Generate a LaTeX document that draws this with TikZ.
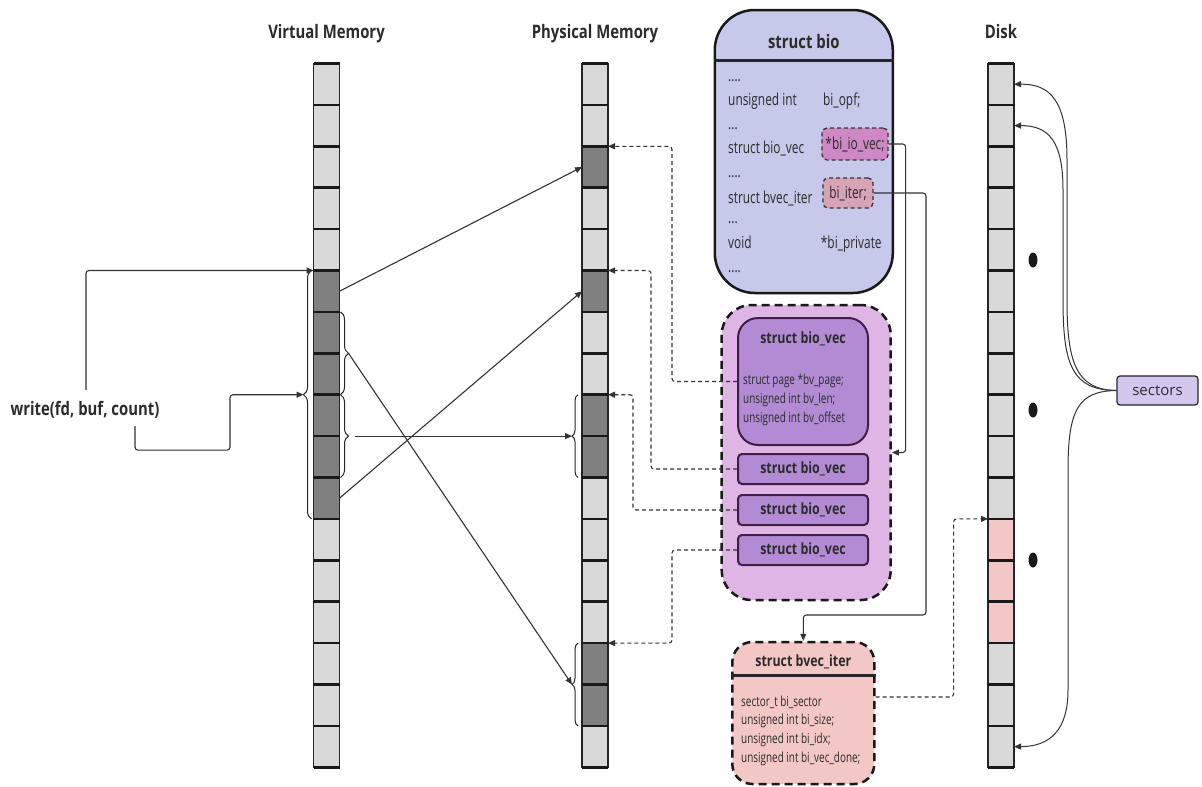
\documentclass[tikz,border=0pt]{standalone}
\usepackage{fontspec}
\setmainfont{Open Sans}[FakeStretch=0.8]
\newfontfamily\widesans{Open Sans}
\newfontfamily\condsans{Open Sans}[FakeStretch=0.72]
\usetikzlibrary{arrows.meta,calc,decorations.pathreplacing}

\definecolor{cellLite}{HTML}{D9D9D9}
\definecolor{cellDark}{HTML}{808080}
\definecolor{cellPink}{HTML}{F4C7C7}
\definecolor{bioFill}{HTML}{C6C9EA}
\definecolor{iovFill}{HTML}{CE88C6}
\definecolor{iterFill}{HTML}{D6A4B6}
\definecolor{contFill}{HTML}{DEB5E4}
\definecolor{bvFill}{HTML}{B28BD4}
\definecolor{bvEdge}{HTML}{3F1F4A}
\definecolor{bvecFill}{HTML}{F4C7C7}
\definecolor{secFill}{HTML}{D5C6F0}
\definecolor{ink}{HTML}{333333}
\definecolor{txt}{HTML}{2B2B2B}

\newcommand{\setfs}[1]{\fontsize{#1}{#1}\selectfont}

\begin{document}
\begin{tikzpicture}[x=1pt,y=-1pt,
  cell/.style={draw=black!85,line width=1.2pt,minimum width=26pt,minimum height=41.4pt,inner sep=0pt,outer sep=0pt},
  lite/.style={cell,fill=cellLite},
  dark/.style={cell,fill=cellDark},
  pinkc/.style={cell,fill=cellPink},
  sepline/.style={line width=2.6pt,draw=black!90},
  title/.style={font=\bfseries\setfs{18.6},text=txt,anchor=base,inner sep=0pt},
  field/.style={font=\condsans\setfs{16.5},text=txt,anchor=base west,inner sep=0pt},
  smallfield/.style={font=\condsans\setfs{13.8},text=txt,anchor=base west,inner sep=0pt},
  conn/.style={draw=ink,line width=1.1pt,-{Triangle[length=7pt,width=6pt]}},
  dconn/.style={conn,dash pattern=on 4pt off 3pt},
  brc/.style={decorate,draw=black!85,line width=1pt},
  bvbox/.style={draw=bvEdge,line width=2pt,fill=bvFill,minimum width=130pt,inner sep=0pt,text=txt},
  bigdash/.style={draw=black!90,line width=2.5pt,dash pattern=on 8pt off 5pt},
  smalldash/.style={draw=black!80,line width=1.3pt,dash pattern=on 4pt off 3pt,rounded corners=5pt,inner sep=1pt,font=\condsans\setfs{16.5},text=txt},
]
\useasboundingbox (0,0) rectangle (1202,787);

% memory and disk columns
\foreach \col/\x/\kinds in {
  v/326.5/{lite,lite,lite,lite,lite,dark,dark,dark,dark,dark,dark,lite,lite,lite,lite,lite,lite},
  p/595/{lite,lite,dark,lite,lite,dark,lite,lite,dark,dark,lite,lite,lite,lite,dark,dark,lite},
  d/1001/{lite,lite,lite,lite,lite,lite,lite,lite,lite,lite,lite,pinkc,pinkc,pinkc,lite,lite,lite}}{
  \foreach \k [count=\n from 0] in \kinds {
    \node[\k] (\col\n) at (\x,{63.5+(\n+0.5)*41.4}) {};
  }
}
\foreach \col in {v,p,d}{
  \foreach \n in {0,...,16}{
    \draw[sepline] (\col\n.north west) -- (\col\n.north east);
  }
  \draw[sepline] (\col16.south west) -- (\col16.south east);
}

% column titles
\node[title] (tv) at (326.5,38.5) {Virtual Memory};
\node[title] (tp) at (595,38.5) {Physical Memory};
\node[title] (td) at (1001,38.5) {Disk};

% braces
\draw[brc,decoration={brace,amplitude=8pt,raise=1pt}] (v6.north east) -- (v7.south east);
\draw[brc,decoration={brace,amplitude=8pt,raise=1pt}] (v8.north east) -- (v9.south east);
\draw[brc,decoration={brace,amplitude=8pt,raise=2pt}] (v10.south west) -- (v5.north west);
\draw[brc,decoration={brace,amplitude=6pt,raise=4pt}] (p9.south west) -- (p8.north west);
\draw[brc,decoration={brace,amplitude=6pt,raise=4pt}] (p15.south west) -- (p14.north west);
\coordinate (vb1) at ($(v6.north east)!0.5!(v7.south east)+(9,0)$);
\coordinate (vb2) at ($(v8.north east)!0.5!(v9.south east)+(9,0)$);
\coordinate (vbl) at ($(v5.north west)!0.5!(v10.south west)+(-10,0)$);
\coordinate (pb1) at ($(p8.north west)!0.5!(p9.south west)+(-10,0)$);
\coordinate (pb2) at ($(p14.north west)!0.5!(p15.south west)+(-10,0)$);

% virtual to physical mapping
\draw[conn] (v5.east) -- (p2.west);
\draw[conn] (v10.east) -- (p5.west);
\draw[conn,shorten <=6pt] (vb2) -- (pb1);
\draw[conn] (vb1) -- (pb2);

% the system call
\node[font=\bfseries\setfs{18.6},text=txt] (write) at (85,410) {write(fd, buf, count)};
\draw[conn,rounded corners=3pt] ($(write.north)+(1,-8)$) |- (v5.north west);
\draw[conn,rounded corners=3pt] ($(write.south)+(50,4)$) |- ++(95,24) |- (vbl);

% struct bio
\node[draw=black!90,line width=2.5pt,fill=bioFill,rounded corners=40pt,minimum width=178pt,minimum height=283pt,inner sep=0pt] (bio) at (803.8,151.5) {};
\draw[line width=3pt,black!85] ($(bio.north west)+(0,52)$) -- ($(bio.north east)+(0,52)$);
\node[title] (biot) at (803.8,48.3) {struct bio};
\node[field] (b1) at (728,81) {....};
\node[field] (b2) at (728,105) {unsigned int};
\node[field] (b2r) at (823,105) {bi\_opf;};
\node[field] (b3) at (728,129) {...};
\node[field] (b4) at (728,153) {struct bio\_vec};
\node[smalldash,fill=iovFill,minimum width=66pt,minimum height=32pt] (iov) at (855,144) {*bi\_io\_vec;};
\node[field] (b5) at (728,177) {....};
\node[field] (b6) at (728,203) {struct bvec\_iter};
\node[smalldash,fill=iterFill,minimum width=50pt,minimum height=30pt] (iter) at (848,193) {bi\_iter;};
\node[field] (b7) at (728,223) {...};
\node[field] (b8) at (728,248) {void};
\node[field] (b8r) at (820.7,248) {*bi\_private};
\node[field] (b9) at (728,272) {....};

% bio_vec array
\node[bigdash,fill=contFill,rounded corners=30pt,minimum width=169pt,minimum height=295pt,inner sep=0pt] (cont) at (806.2,452.5) {};
\node[bvbox,rounded corners=20pt,minimum height=127pt] (bv0) at (803,381.5) {};
\node[title,font=\bfseries\setfs{15.5}] (bv0t) at (803,343) {struct bio\_vec};
\node[smallfield] (bf1) at (743,384.3) {struct page *bv\_page;};
\node[smallfield] (bf2) at (743,403.3) {unsigned int bv\_len;};
\node[smallfield] (bf3) at (743,422.7) {unsigned int bv\_offset};
\node[bvbox,rounded corners=4pt,minimum height=30pt,font=\bfseries\setfs{15.5}] (bv1) at (803,469) {struct bio\_vec};
\node[bvbox,rounded corners=4pt,minimum height=30pt,font=\bfseries\setfs{15.5}] (bv2) at (803,510) {struct bio\_vec};
\node[bvbox,rounded corners=4pt,minimum height=30pt,font=\bfseries\setfs{15.5}] (bv3) at (803,550) {struct bio\_vec};

% struct bvec_iter
\node[bigdash,fill=bvecFill,rounded corners=20pt,minimum width=142pt,minimum height=142pt,inner sep=0pt] (bvec) at (803.3,713) {};
\draw[line width=3pt,black!85] ($(bvec.north west)+(0,35)$) -- ($(bvec.north east)+(0,35)$);
\node[title,font=\bfseries\setfs{15.5}] (bvect) at (803.3,666.7) {struct bvec\_iter};
\node[smallfield] (vf1) at (741,706) {sector\_t bi\_sector};
\node[smallfield] (vf2) at (741,724.3) {unsigned int bi\_size;};
\node[smallfield] (vf3) at (741,743.3) {unsigned int bi\_idx;};
\node[smallfield] (vf4) at (741,762.7) {unsigned int bi\_vec\_done;};

% pointers out of struct bio
\coordinate (iterturn) at (926,615);
\draw[conn,rounded corners=3pt] (iov.east) -- ++(17,0) |- (cont.east);
\draw[conn,rounded corners=3pt] (iter.east) -| (iterturn) -| (bvec.north);

% pages referenced by each bio_vec
\draw[dconn,rounded corners=3pt] (bv0.west) -- ++(-65,0) |- (p2.north east);
\draw[dconn,rounded corners=3pt] (bv1.west) -- ++(-86,0) |- (p5.north east);
\draw[dconn,rounded corners=3pt] (bv2.west) -- ++(-104,0) |- (p8.north east);
\draw[dconn,rounded corners=3pt] (bv3.west) -- ++(-65,0) |- (p14.north east);

% starting sector on disk
\draw[dconn,rounded corners=3pt] ($(bvec.east)+(0,-16)$) -- ++(78,0) |- (d11.north west);

% sectors label
\node[draw=black!85,line width=1.2pt,fill=secFill,rounded corners=3pt,minimum width=81pt,minimum height=29pt,font=\widesans\setfs{15},text=txt] (sec) at (1157.5,390.5) {sectors};
\draw[conn,line width=1pt] (sec.west) .. controls (1075,390) and (1067,360) .. (1067,300) -- (1067,160) .. controls (1067,100) and (1050,84) .. (d0.east);
\draw[conn,line width=1pt] (sec.west) .. controls (1072,390) and (1063,365) .. (1063,300) -- (1063,190) .. controls (1063,140) and (1048,125.6) .. (d1.east);
\draw[conn,line width=1pt] (sec.west) .. controls (1078,391) and (1068,410) .. (1068,470) -- (1068,690) .. controls (1068,730) and (1050,746.6) .. (d16.east);

% ellipsis dots beside the disk
\fill[black!90] (1033,260) ellipse [x radius=4.5,y radius=7.5];
\fill[black!90] (1033,410) ellipse [x radius=4.5,y radius=7.5];
\fill[black!90] (1033,560) ellipse [x radius=4.5,y radius=7.5];
\end{tikzpicture}
\end{document}
